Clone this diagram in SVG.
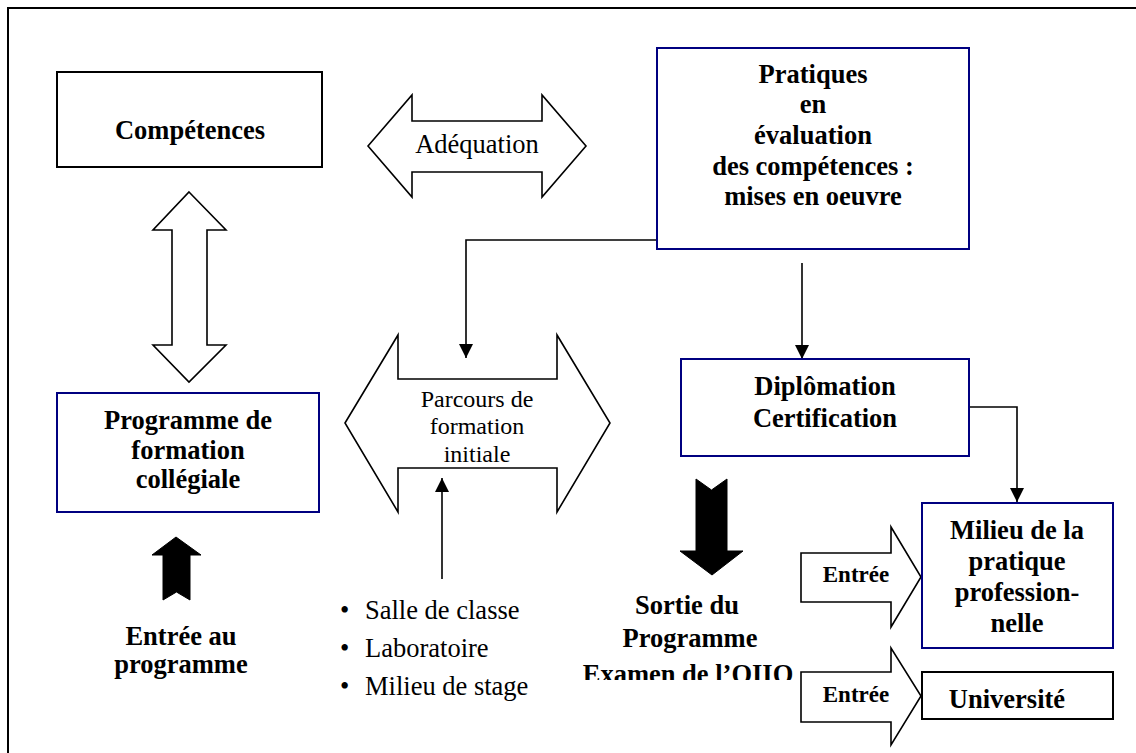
<svg xmlns="http://www.w3.org/2000/svg" width="1136" height="753" viewBox="0 0 1136 753">
<style>
.bg{fill:#fff}
.frame{fill:none;stroke:#000;stroke-width:2}
.nbox{fill:#fff;stroke:#000080;stroke-width:2}
.kbox{fill:#fff;stroke:#000;stroke-width:2}
.hollow{fill:#fff;stroke:#000;stroke-width:1.6;stroke-linejoin:miter}
.solid{fill:#000;stroke:#000;stroke-width:1}
.conn{fill:none;stroke:#000;stroke-width:1.6}
.b{font-family:"Liberation Serif","Times New Roman",serif;font-weight:bold;font-size:26.5px;text-anchor:middle;fill:#000}
.bs{font-family:"Liberation Serif","Times New Roman",serif;font-weight:bold;font-size:23px;text-anchor:middle;fill:#000}
.r{font-family:"Liberation Serif","Times New Roman",serif;font-size:26.5px;text-anchor:middle;fill:#000}
.rs{font-family:"Liberation Serif","Times New Roman",serif;font-size:24px;text-anchor:middle;fill:#000}
.l{font-family:"Liberation Serif","Times New Roman",serif;font-size:26.5px;fill:#000}
</style>
<defs>
<marker id="ah" viewBox="0 0 10 10" refX="10" refY="5" markerUnits="userSpaceOnUse" markerWidth="15" markerHeight="14" orient="auto">
<path d="M0,0 L10,5 L0,10 z" fill="#000"/>
</marker>
<clipPath id="cutExam"><rect x="560" y="600" width="260" height="80"/></clipPath>
</defs>
<rect class="bg" x="0" y="0" width="1136" height="753"/>
<path class="frame" d="M8,753 V8 H1136"/>

<g id="connectors">
<path class="conn" d="M657,240 H466 V358" marker-end="url(#ah)"/>
<path class="conn" d="M802,263 V359" marker-end="url(#ah)"/>
<path class="conn" d="M969,407 H1017 V502" marker-end="url(#ah)"/>
<path class="conn" d="M442,579 V478" marker-end="url(#ah)"/>
</g>

<g id="arrow-competences-programme">
<polygon class="hollow" points="189,192 226,230 207,230 207,345 226,345 189,382 153,345 172,345 172,230 153,230"/>
</g>

<g id="adequation">
<polygon class="hollow" points="368,146 412,95 412,121 542,121 542,95 586,146 542,197 542,172 412,172 412,197"/>
<text class="r" x="477" y="153">Adéquation</text>
</g>

<g id="competences">
<rect class="kbox" x="57" y="72" width="265" height="95"/>
<text class="b" x="190" y="139">Compétences</text>
</g>

<g id="pratiques">
<rect class="nbox" x="657" y="48" width="312" height="201"/>
<text class="b" x="813" y="83">Pratiques</text>
<text class="b" x="813" y="113">en</text>
<text class="b" x="813" y="144">évaluation</text>
<text class="b" x="813" y="175">des compétences :</text>
<text class="b" x="813" y="205">mises en oeuvre</text>
</g>

<g id="programme">
<rect class="nbox" x="57" y="393" width="262" height="119"/>
<text class="b" x="188" y="429">Programme de</text>
<text class="b" x="188" y="459">formation</text>
<text class="b" x="188" y="488">collégiale</text>
</g>

<g id="parcours">
<polygon class="hollow" points="345,423 398,335 398,379 557,379 557,335 610,423 557,512 557,468 398,468 398,512"/>
<text class="rs" x="477" y="407">Parcours de</text>
<text class="rs" x="477" y="434">formation</text>
<text class="rs" x="477" y="462">initiale</text>
</g>

<g id="diplomation">
<rect class="nbox" x="681" y="359" width="288" height="97"/>
<text class="b" x="825" y="395">Diplômation</text>
<text class="b" x="825" y="427">Certification</text>
</g>

<g id="entree-programme">
<polygon class="solid" points="176,537 201,555 190,555 190,600 176.5,592 163,600 163,555 152,555"/>
<text class="b" x="181" y="645">Entrée au</text>
<text class="b" x="181" y="673">programme</text>
</g>

<g id="lieux">
<text class="l" x="340" y="619">•</text>
<text class="l" x="365" y="619">Salle de classe</text>
<text class="l" x="340" y="657">•</text>
<text class="l" x="365" y="657">Laboratoire</text>
<text class="l" x="340" y="695">•</text>
<text class="l" x="365" y="695">Milieu de stage</text>
</g>

<g id="sortie">
<polygon class="solid" points="696,479 711.5,490 727,479 727,551 743,551 712,575 680,551 696,551"/>
<text class="b" x="687" y="614">Sortie du</text>
<text class="b" x="690" y="647">Programme</text>
<text class="b" x="688" y="683" clip-path="url(#cutExam)">Examen de l’OIIQ</text>
</g>

<g id="entree-milieu">
<polygon class="hollow" points="801,553 891,553 891,527 921,577 891,627 891,602 801,602"/>
<text class="bs" x="856" y="582">Entrée</text>
</g>

<g id="entree-universite">
<polygon class="hollow" points="801,672 891,672 891,648 921,696 891,745 891,722 801,722"/>
<text class="bs" x="856" y="702">Entrée</text>
</g>

<g id="milieu">
<rect class="nbox" x="922" y="503" width="191" height="145"/>
<text class="b" x="1017" y="539">Milieu de la</text>
<text class="b" x="1017" y="570">pratique</text>
<text class="b" x="1017" y="601">profession-</text>
<text class="b" x="1017" y="632">nelle</text>
</g>

<g id="universite">
<rect class="kbox" x="922" y="672" width="191" height="47"/>
<text class="b" x="1007" y="708">Université</text>
</g>
</svg>
